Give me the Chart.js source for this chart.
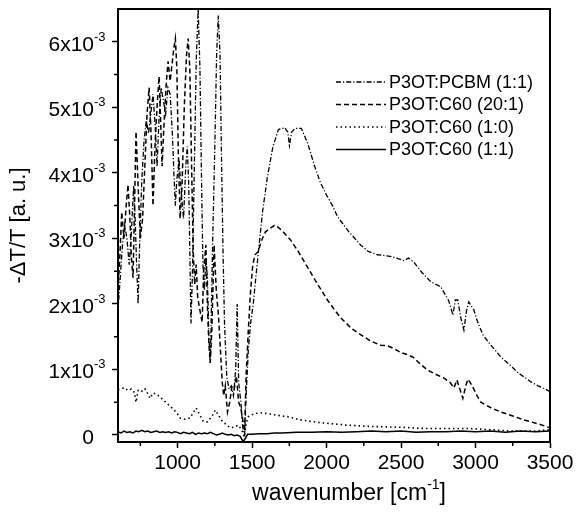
<!DOCTYPE html>
<html><head><meta charset="utf-8">
<script src="https://cdn.jsdelivr.net/npm/chart.js@4.4.1/dist/chart.umd.min.js"></script>
<style>html,body{margin:0;padding:0;background:#fff;}canvas{display:block;}</style>
</head><body>
<canvas id="c" width="576" height="514"></canvas>
<script>
// Series labels (legend order)
const seriesLabels = ['P3OT:PCBM (1:1)', 'P3OT:C60 (20:1)', 'P3OT:C60 (1:0)', 'P3OT:C60 (1:1)'];

// Values of -ΔT/T in units of 1e-3
const pcbmX = [600,615,630,645,660,675,690,705,715,725,735,745,760,775,790,805,820,835,850,862,875,890,905,920,935,950,965,975,985,995,1010,1025,1040,1055,1065,1075,1090,1100,1115,1125,1138,1150,1160,1170,1180,1190,1200,1210,1220,1235,1250,1262,1273,1285,1295,1305,1315,1330,1345,1360,1375,1390,1400,1410,1425,1440,1450,1460,1475,1490,1508,1525,1542,1570,1603,1640,1677,1720,1740,1751,1765,1790,1830,1872,1920,1959,2000,2040,2074,2150,2228,2280,2343,2417,2470,2520,2550,2585,2640,2699,2767,2820,2848,2865,2881,2900,2922,2940,2955,2970,2989,3010,3049,3100,3170,3230,3285,3330,3372,3420,3470,3500];
const pcbmY = [1.9,2.4,2.9,3.2,3.0,2.6,3.1,3.8,3.3,2.6,2.0,2.9,3.9,4.5,4.8,4.6,4.9,5.2,4.7,4.1,4.8,5.3,5.1,4.9,5.3,5.2,4.6,4.0,3.5,3.9,4.2,3.7,3.3,4.1,4.4,3.8,1.7,2.5,4.4,5.7,6.5,5.6,4.0,2.6,2.2,2.7,2.4,1.5,1.1,2.9,4.4,5.8,6.4,5.8,4.2,2.8,1.7,0.9,0.7,0.75,0.6,1.0,2.0,0.8,0.5,0.05,0.0,0.6,1.3,1.7,2.0,2.4,2.78,3.4,3.94,4.4,4.66,4.69,4.62,4.42,4.62,4.68,4.68,4.46,4.1,3.85,3.66,3.5,3.33,3.1,2.9,2.8,2.75,2.73,2.70,2.66,2.70,2.64,2.48,2.34,2.26,2.05,1.83,2.06,2.06,1.8,1.6,1.9,2.03,1.97,1.91,1.75,1.53,1.38,1.19,1.07,0.95,0.88,0.81,0.75,0.70,0.66];

const c60_20X = [600,612,625,640,655,667,680,690,701,712,721,735,750,765,782,795,809,822,835,848,862,876,886,896,910,925,936,950,960,975,985,995,1005,1017,1030,1045,1060,1071,1082,1095,1105,1115,1125,1135,1150,1165,1175,1190,1200,1210,1219,1230,1245,1260,1275,1290,1300,1310,1320,1335,1350,1365,1380,1395,1410,1425,1440,1450,1460,1475,1490,1505,1520,1542,1560,1590,1620,1650,1670,1700,1757,1810,1872,1940,2006,2050,2094,2170,2249,2300,2363,2410,2450,2498,2550,2585,2630,2679,2730,2787,2830,2855,2875,2895,2915,2935,2948,2965,2982,3010,3036,3100,3170,3250,3325,3420,3500];
const c60_20Y = [2.2,2.7,3.4,3.0,3.5,3.82,3.3,2.7,2.4,3.6,4.63,3.8,3.0,3.3,4.2,4.9,5.3,4.6,3.5,4.4,5.0,5.47,4.8,4.1,4.8,5.4,5.7,5.4,5.6,5.9,6.05,5.6,4.3,3.3,3.8,5.0,5.8,6.05,5.6,4.0,2.8,2.3,2.6,2.1,1.9,1.72,2.5,2.9,2.0,1.4,1.1,1.6,2.9,2.2,1.8,1.2,0.8,0.6,0.75,0.35,0.5,0.75,0.7,0.9,0.5,0.4,0.2,0.05,0.9,1.6,2.2,2.6,2.75,2.8,2.95,3.1,3.15,3.2,3.18,3.12,2.98,2.8,2.56,2.3,2.06,1.92,1.79,1.62,1.50,1.43,1.37,1.36,1.32,1.26,1.22,1.18,1.08,0.99,0.93,0.87,0.80,0.72,0.84,0.70,0.56,0.75,0.85,0.80,0.73,0.60,0.50,0.42,0.35,0.29,0.23,0.17,0.11];

const c60_10X = [600,625,647,665,690,710,721,735,748,765,782,800,815,835,862,880,896,930,963,990,1017,1050,1084,1105,1125,1150,1172,1200,1230,1253,1275,1300,1330,1354,1380,1407,1430,1448,1462,1475,1510,1555,1620,1700,1737,1825,1950,2140,2300,2477,2650,2800,2950,3100,3250,3400,3500];
const c60_10Y = [0.69,0.71,0.72,0.68,0.70,0.65,0.5,0.68,0.69,0.66,0.70,0.63,0.56,0.64,0.62,0.58,0.55,0.48,0.41,0.35,0.26,0.24,0.26,0.34,0.41,0.30,0.21,0.20,0.28,0.38,0.30,0.21,0.15,0.11,0.12,0.15,0.08,-0.03,0.20,0.28,0.32,0.34,0.32,0.29,0.28,0.23,0.19,0.15,0.13,0.12,0.10,0.10,0.10,0.08,0.06,0.06,0.08];

const c60_11X = [600,620,640,660,680,700,720,740,760,780,800,820,840,860,880,900,920,940,960,980,1000,1020,1040,1060,1080,1100,1120,1140,1160,1180,1200,1220,1240,1260,1280,1300,1320,1340,1360,1380,1400,1420,1440,1455,1470,1500,1550,1600,1650,1700,1800,1900,2000,2100,2200,2300,2400,2500,2600,2700,2800,2900,3000,3100,3200,3300,3400,3500];
const c60_11Y = [0.05,0.03,0.06,0.04,0.05,0.03,0.06,0.05,0.07,0.05,0.06,0.04,0.05,0.06,0.04,0.05,0.04,0.05,0.03,0.05,0.04,0.02,0.04,0.03,0.02,0.04,0.01,0.03,0.02,0.03,0.02,0.04,0.02,0.0,0.01,0.03,0.01,0.0,0.01,-0.01,0.0,-0.02,-0.1,-0.05,0.01,0.01,0.02,0.02,0.03,0.03,0.04,0.04,0.05,0.04,0.05,0.06,0.05,0.06,0.04,0.05,0.05,0.06,0.05,0.06,0.04,0.06,0.05,0.06];

// Axis ticks
const xTicks = [1000,1500,2000,2500,3000,3500];
const yTickMantissas = [0,1,2,3,4,5,6];
const yExponent = '-3';

const toPts = (xs, ys) => xs.map((x, i) => ({x, y: ys[i]}));

const lineStyles = [
  {dash: [5,2,1.2,2], width: 1.3},
  {dash: [5,3], width: 1.5},
  {dash: [1.5,3], width: 1.6},
  {dash: [], width: 1.5}
];
const seriesData = [toPts(pcbmX,pcbmY), toPts(c60_20X,c60_20Y), toPts(c60_10X,c60_10Y), toPts(c60_11X,c60_11Y)];

const FONT = 'Liberation Sans, Arial, Helvetica, sans-serif';

const extras = {
  id: 'extras',
  afterDraw(chart) {
    const ctx = chart.ctx, a = chart.chartArea, xs = chart.scales.x, ys = chart.scales.y;
    ctx.save();
    ctx.strokeStyle = '#000';
    // frame top & right
    ctx.lineWidth = 2;
    ctx.beginPath();
    ctx.moveTo(a.left, a.top); ctx.lineTo(a.right, a.top); ctx.lineTo(a.right, a.bottom);
    ctx.stroke();
    // minor ticks
    ctx.lineWidth = 1.5;
    ctx.beginPath();
    for (let v = 750; v < 3500; v += 500) {
      const px = xs.getPixelForValue(v);
      ctx.moveTo(px, a.bottom); ctx.lineTo(px, a.bottom + 4);
    }
    for (let v = 0.5; v < 6.5; v += 1) {
      const py = ys.getPixelForValue(v);
      ctx.moveTo(a.left - 4, py); ctx.lineTo(a.left, py);
    }
    ctx.stroke();
    // y tick superscripts
    ctx.fillStyle = '#000';
    ctx.textAlign = 'left';
    ctx.textBaseline = 'alphabetic';
    ctx.font = '13px ' + FONT;
    yTickMantissas.forEach(m => {
      if (m === 0) return;
      const py = ys.getPixelForValue(m);
      ctx.fillText(yExponent, a.left - 24, py - 1);
    });
    // x axis title with superscript
    const big = '23px ' + FONT, small = '14px ' + FONT;
    ctx.font = big; const w1 = ctx.measureText('wavenumber [cm').width; const w3 = ctx.measureText(']').width;
    ctx.font = small; const w2 = ctx.measureText('-1').width;
    let x0 = 349 - (w1 + w2 + w3) / 2, base = 500;
    ctx.font = big; ctx.fillText('wavenumber [cm', x0, base);
    ctx.font = small; ctx.fillText('-1', x0 + w1, base - 11);
    ctx.font = big; ctx.fillText(']', x0 + w1 + w2, base);
    // legend
    ctx.font = '18px ' + FONT;
    ctx.textBaseline = 'middle';
    chart.data.datasets.forEach((ds, i) => {
      const y = 82 + i * 22.5;
      ctx.save();
      ctx.lineWidth = ds.borderWidth;
      ctx.setLineDash(ds.borderDash || []);
      ctx.beginPath(); ctx.moveTo(336, y); ctx.lineTo(386, y); ctx.stroke();
      ctx.restore();
      ctx.fillText(ds.label, 389, y + 1);
    });
    ctx.restore();
  }
};

new Chart(document.getElementById('c'), {
  type: 'line',
  data: {
    datasets: seriesData.map((d, i) => ({
      label: seriesLabels[i],
      data: d,
      borderColor: '#000',
      borderWidth: lineStyles[i].width,
      borderDash: lineStyles[i].dash,
      pointRadius: 0,
      tension: 0,
      fill: false
    }))
  },
  options: {
    responsive: false,
    animation: false,
    devicePixelRatio: 1,
    layout: {autoPadding: false, padding: {left: 0, top: 9, right: 26, bottom: 0}},
    plugins: {legend: {display: false}, tooltip: {enabled: false}},
    scales: {
      x: {
        type: 'linear', min: 600, max: 3500,
        afterFit: s => { s.height = 72; s.paddingLeft = 0; s.paddingRight = 0; },
        afterBuildTicks: s => { s.ticks = xTicks.map(v => ({value: v})); },
        border: {display: true, color: '#000', width: 2},
        grid: {drawOnChartArea: false, drawTicks: true, tickLength: 6, tickColor: '#000', tickWidth: 1.5},
        ticks: {color: '#000', font: {size: 21, family: FONT}, padding: 3, maxRotation: 0, autoSkip: false,
                callback: v => String(v)}
      },
      y: {
        type: 'linear', min: -0.107, max: 6.5,
        afterFit: s => { s.width = 118; s.paddingTop = 0; s.paddingBottom = 0; },
        afterBuildTicks: s => { s.ticks = yTickMantissas.map(v => ({value: v})); },
        border: {display: true, color: '#000', width: 2},
        grid: {drawOnChartArea: false, drawTicks: true, tickLength: 6, tickColor: '#000', tickWidth: 1.5},
        title: {display: true, text: '-ΔT/T [a. u.]', color: '#000', font: {size: 22, family: FONT}, padding: {top: 6, bottom: 0}},
        ticks: {color: '#000', font: {size: 21, family: FONT}, padding: 18, labelOffset: 3, autoSkip: false,
                callback: v => (v === 0 ? '0' : v + 'x10')}
      }
    }
  },
  plugins: [extras]
});
</script>
</body></html>
